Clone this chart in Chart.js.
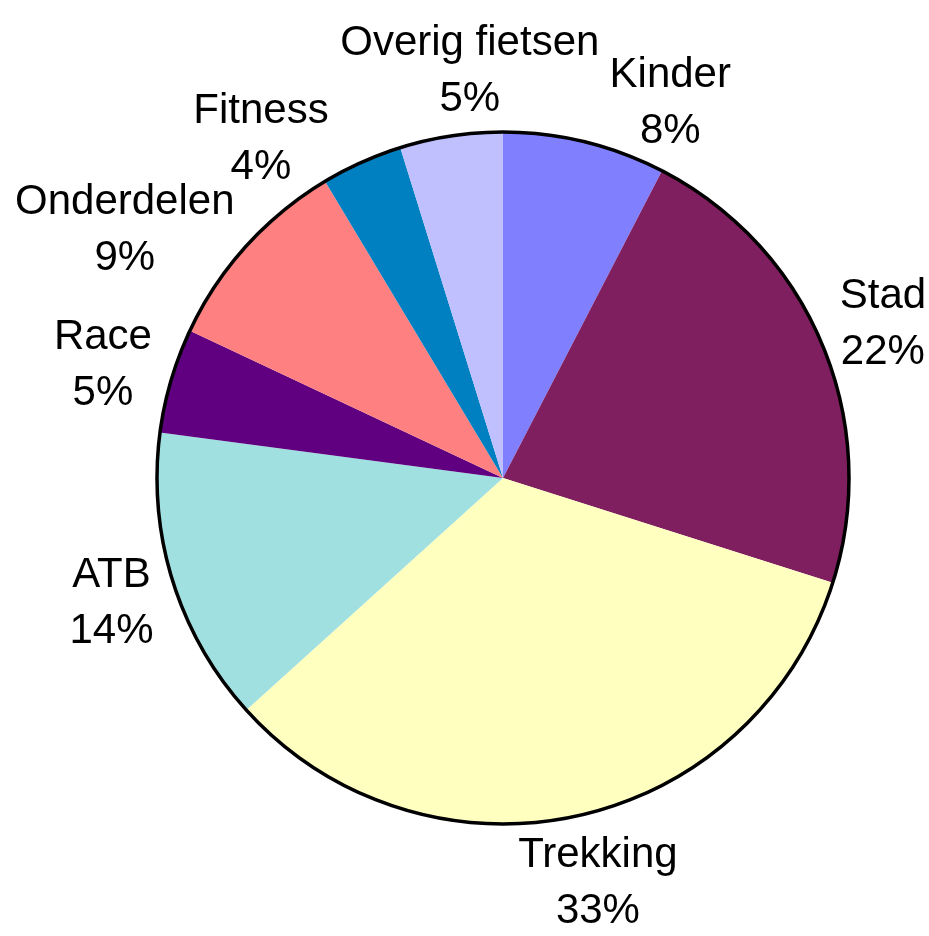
<!DOCTYPE html>
<html>
<head>
    <meta charset="utf-8">
    <title>Fietsen verkoop</title>
    <script src="https://cdn.jsdelivr.net/npm/chart.js"></script>
    <style>
        body { margin: 0; background: #fff; }
        canvas { display: block; }
    </style>
</head>
<body>
    <canvas id="pie" width="929" height="936"></canvas>

    <script>
        // slices, clockwise from 12 o'clock
        const categories = ["Kinder", "Stad", "Trekking", "ATB", "Race", "Onderdelen", "Fitness", "Overig fietsen"];
        const shares = [7.6, 22.3, 33.4, 13.8, 4.9, 9.4, 3.8, 4.8];
        const sliceColors = ["#8080FF", "#7F1F5F", "#FFFFC0", "#A0E0E0", "#600080", "#FF8080", "#0080C0", "#C0C0FF"];

        const FONT = "42px 'Liberation Sans', Arial, sans-serif";
        const LINE = 56;

        function normAngle(a) {
            while (a > Math.PI) a -= 2 * Math.PI;
            while (a < -Math.PI) a += 2 * Math.PI;
            return a;
        }

        // labels outside the pie, pushed apart when they collide
        const outsideLabels = {
            id: "outsideLabels",
            afterDatasetsDraw(chart) {
                const ctx = chart.ctx;
                const arcs = chart.getDatasetMeta(0).data;
                const total = shares.reduce((a, b) => a + b, 0);
                const cx = arcs[0].x, cy = arcs[0].y, r = arcs[0].outerRadius;

                // outer rim
                ctx.save();
                ctx.beginPath();
                ctx.arc(cx, cy, r, 0, Math.PI * 2);
                ctx.lineWidth = 3.5;
                ctx.strokeStyle = "#000";
                ctx.stroke();
                ctx.restore();

                ctx.save();
                ctx.font = FONT;
                const R0 = r + 22;
                const items = arcs.map((arc, i) => {
                    const pct = Math.round(shares[i] / total * 100) + "%";
                    const w = Math.max(ctx.measureText(categories[i]).width, ctx.measureText(pct).width);
                    return { name: categories[i], pct, w, h: 86, a: (arc.startAngle + arc.endAngle) / 2 };
                });

                function box(it) {
                    const dx = Math.cos(it.a), dy = Math.sin(it.a);
                    const x = cx + dx * R0 + dx * it.w / 2;
                    const y = cy + dy * R0 + dy * it.h / 2;
                    return { x, y, l: x - it.w / 2, r: x + it.w / 2, t: y - it.h / 2, b: y + it.h / 2 };
                }

                const step = 0.003;
                for (let iter = 0; iter < 2000; iter++) {
                    let moved = false;
                    for (let i = 0; i < items.length; i++) {
                        for (let j = i + 1; j < items.length; j++) {
                            const A = box(items[i]), B = box(items[j]);
                            const overlap = A.l < B.r + 10 && B.l < A.r + 10 && A.t < B.b + 4 && B.t < A.b + 4;
                            if (!overlap) continue;
                            const d = normAngle(items[j].a - items[i].a);
                            const s = d > 0 ? 1 : -1;
                            items[j].a += s * step;
                            items[i].a -= s * step;
                            moved = true;
                        }
                    }
                    if (!moved) break;
                }

                ctx.fillStyle = "#000";
                ctx.textAlign = "center";
                ctx.textBaseline = "alphabetic";
                items.forEach(it => {
                    const b = box(it);
                    ctx.fillText(it.name, b.x, b.y - 13);
                    ctx.fillText(it.pct, b.x, b.y - 13 + LINE);
                });
                ctx.restore();
            }
        };

        new Chart(document.getElementById("pie"), {
            type: "pie",
            data: {
                labels: categories,
                datasets: [{
                    data: shares,
                    backgroundColor: sliceColors,
                    borderWidth: 0
                }]
            },
            options: {
                responsive: false,
                animation: false,
                layout: { padding: { left: 157, right: 80, top: 132, bottom: 112 } },
                plugins: { legend: { display: false }, tooltip: { enabled: false } }
            },
            plugins: [outsideLabels]
        });
    </script>
</body>
</html>
